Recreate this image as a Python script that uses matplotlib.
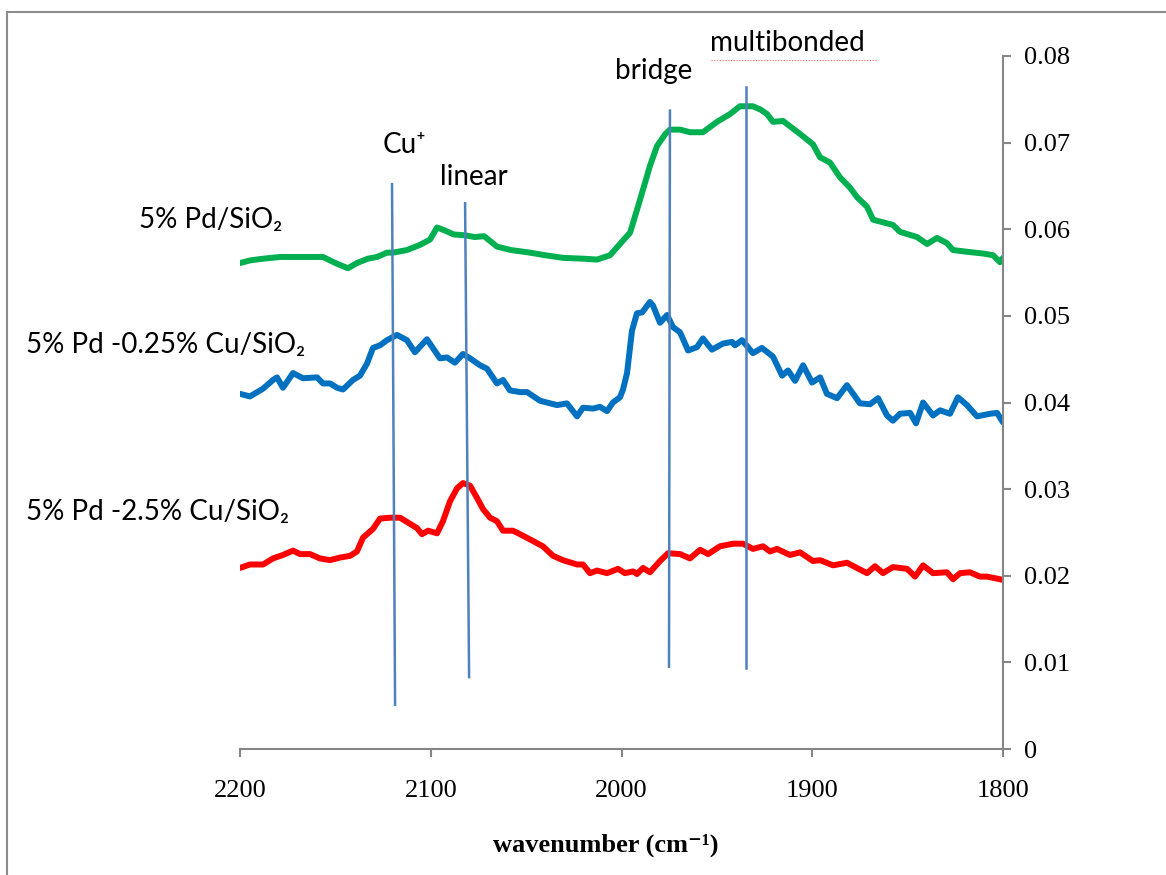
import matplotlib.pyplot as plt
from matplotlib.patches import Rectangle

# IR spectra of adsorbed CO on Pd and Pd-Cu catalysts
wn_pd = [2200, 2194.8, 2187.9, 2179, 2167, 2160, 2156.5, 2152.8, 2149, 2143.4,
         2138.7, 2133, 2128.2, 2122.9, 2119.8, 2112.5, 2105.6, 2100.4, 2096.7, 2093,
         2088, 2082, 2077, 2072, 2065.3, 2058, 2048, 2040, 2030.7, 2020,
         2012.8, 2006, 2002, 1998, 1995.5, 1990.3, 1985.1, 1981.4, 1977, 1974.6,
         1969.3, 1964.1, 1957.3, 1949.9, 1943.1, 1937.9, 1931.1, 1927, 1923.7, 1920.6,
         1915.3, 1906.4, 1899.6, 1895.9, 1890.7, 1885.5, 1880.2, 1876.5, 1871.3, 1868.1,
         1862.9, 1857.7, 1854.0, 1845.1, 1839.8, 1834.6, 1829.4, 1826.2, 1818.9, 1810.5,
         1805.2, 1801.6, 1800]
abs_pd = [0.0561, 0.0564, 0.0566, 0.0568, 0.0568, 0.0568, 0.0568, 0.0564, 0.0560, 0.0555,
          0.0561, 0.0566, 0.0568, 0.0573, 0.0573, 0.0576, 0.0582, 0.0588, 0.0602, 0.0599,
          0.0594, 0.0593, 0.0591, 0.0592, 0.0580, 0.0576, 0.0573, 0.0570, 0.0567, 0.0566,
          0.0565, 0.0570, 0.0580, 0.0590, 0.0596, 0.0634, 0.0673, 0.0696, 0.0710, 0.0715,
          0.0715, 0.0712, 0.0712, 0.0724, 0.0733, 0.0742, 0.0742, 0.0738, 0.0733, 0.0724,
          0.0725, 0.0710, 0.0698, 0.0683, 0.0677, 0.0660, 0.0648, 0.0637, 0.0626, 0.0611,
          0.0608, 0.0605, 0.0597, 0.0591, 0.0583, 0.0590, 0.0584, 0.0576, 0.0574, 0.0572,
          0.0570, 0.0562, 0.0567]

wn_cu025 = [2200, 2194.8, 2187.9, 2182.7, 2180.6, 2177.5, 2172.2, 2167.0, 2159.6, 2156.5,
            2152.8, 2149.1, 2146.0, 2140.8, 2137.1, 2133.4, 2130.3, 2126.6, 2122.9, 2117.7,
            2112.5, 2108.3, 2102.0, 2095.2, 2091.5, 2087.3, 2083.1, 2079.4, 2074.2, 2070.5,
            2065.3, 2062.1, 2058.5, 2053.2, 2049.5, 2042.7, 2033.8, 2028.6, 2023.3, 2020.2,
            2014.9, 2011.3, 2007.6, 2004.5, 2000.8, 1999.2, 1997.1, 1994.5, 1991.9, 1989.2,
            1985.1, 1983.5, 1979.8, 1976.1, 1973.0, 1969.3, 1965.1, 1960.4, 1957.3, 1952.6,
            1946.8, 1942.1, 1940.5, 1936.8, 1931.1, 1926.4, 1920.6, 1915.8, 1912.7, 1909.0,
            1904.8, 1900.1, 1895.9, 1892.3, 1887.0, 1881.8, 1875.0, 1869.7, 1865.5, 1860.8,
            1857.7, 1854.0, 1848.7, 1845.6, 1841.9, 1836.7, 1833.0, 1827.8, 1823.6, 1818.9,
            1813.6, 1806.8, 1803.1, 1800.0]
abs_cu025 = [0.0410, 0.0407, 0.0416, 0.0426, 0.0429, 0.0417, 0.0434, 0.0428, 0.0429, 0.0422,
             0.0422, 0.0417, 0.0415, 0.0426, 0.0431, 0.0445, 0.0463, 0.0466, 0.0472, 0.0478,
             0.0472, 0.0458, 0.0473, 0.0451, 0.0452, 0.0446, 0.0456, 0.0451, 0.0443, 0.0439,
             0.0422, 0.0426, 0.0414, 0.0412, 0.0412, 0.0402, 0.0397, 0.0399, 0.0384, 0.0394,
             0.0393, 0.0395, 0.0390, 0.0400, 0.0406, 0.0415, 0.0434, 0.0483, 0.0503, 0.0504,
             0.0516, 0.0512, 0.0492, 0.0501, 0.0487, 0.0481, 0.0460, 0.0464, 0.0474, 0.0461,
             0.0468, 0.0470, 0.0466, 0.0472, 0.0457, 0.0463, 0.0453, 0.0431, 0.0437, 0.0425,
             0.0443, 0.0423, 0.0429, 0.0410, 0.0405, 0.0420, 0.0399, 0.0398, 0.0405, 0.0385,
             0.0379, 0.0387, 0.0388, 0.0376, 0.0400, 0.0385, 0.0391, 0.0387, 0.0406, 0.0397,
             0.0384, 0.0387, 0.0388, 0.0377]

wn_cu25 = [2200, 2194.8, 2187.9, 2182.7, 2177.5, 2172.2, 2168.5, 2163.3, 2158.1, 2152.8,
           2147.6, 2142.3, 2138.7, 2135.5, 2130.3, 2126.6, 2121.4, 2116.1, 2110.9, 2107.2,
           2104.6, 2101.4, 2096.7, 2093.6, 2089.9, 2086.2, 2083.1, 2079.4, 2075.8, 2072.6,
           2068.9, 2065.3, 2062.1, 2056.9, 2053.2, 2048.0, 2041.2, 2035.9, 2030.7, 2023.3,
           2020.2, 2016.5, 2012.8, 2007.6, 2001.8, 1998.2, 1993.9, 1991.9, 1988.7, 1985.1,
           1979.8, 1975.6, 1969.3, 1964.1, 1958.8, 1954.6, 1948.4, 1941.5, 1936.3, 1931.1,
           1925.8, 1922.1, 1918.5, 1911.7, 1906.4, 1899.6, 1895.9, 1889.1, 1881.8, 1871.3,
           1867.1, 1862.9, 1857.7, 1850.3, 1846.1, 1841.9, 1836.7, 1829.4, 1826.2, 1822.5,
           1817.3, 1812.1, 1808.4, 1801.6, 1800.0]
abs_cu25 = [0.0209, 0.0213, 0.0213, 0.0220, 0.0224, 0.0229, 0.0225, 0.0225, 0.0220, 0.0218,
            0.0221, 0.0223, 0.0228, 0.0244, 0.0254, 0.0266, 0.0267, 0.0267, 0.0260, 0.0255,
            0.0248, 0.0252, 0.0249, 0.0263, 0.0286, 0.0301, 0.0307, 0.0304, 0.0290, 0.0277,
            0.0267, 0.0263, 0.0252, 0.0252, 0.0248, 0.0242, 0.0234, 0.0223, 0.0218, 0.0213,
            0.0213, 0.0203, 0.0206, 0.0203, 0.0208, 0.0203, 0.0205, 0.0202, 0.0209, 0.0204,
            0.0217, 0.0226, 0.0225, 0.0220, 0.0230, 0.0225, 0.0234, 0.0237, 0.0237, 0.0231,
            0.0234, 0.0228, 0.0231, 0.0224, 0.0227, 0.0217, 0.0218, 0.0212, 0.0215, 0.0203,
            0.0211, 0.0203, 0.0210, 0.0208, 0.0199, 0.0212, 0.0203, 0.0204, 0.0196, 0.0203,
            0.0204, 0.0199, 0.0199, 0.0196, 0.0195]

# band assignment markers: (label, top wn, top y, bottom wn, bottom y)
band_names = ["Cu\u207a", "linear", "bridge", "multibonded"]
band_top_wn = [2120.3, 2082.0, 1974.6, 1934.7]
band_top_y = [0.0652, 0.0630, 0.0737, 0.0764]
band_bot_wn = [2118.7, 2079.9, 1975.1, 1934.7]
band_bot_y = [0.0051, 0.0083, 0.0095, 0.0093]
band_label_wn = [2125, 2095.2, 2003.4, 1953.6]
band_label_y = [0.0688, 0.0651, 0.0773, 0.0806]

sample_names = ["5% Pd/SiO\u2082", "5% Pd -0.25% Cu/SiO\u2082", "5% Pd -2.5% Cu/SiO\u2082"]
sample_label_wn = [2253, 2312, 2312]
sample_label_y = [0.0602, 0.0457, 0.0264]

sans = ["Lato", "DejaVu Sans"]
serif = ["Liberation Serif", "DejaVu Serif"]
grey = "#868686"

fig = plt.figure(figsize=(11.66, 8.75), dpi=100)
ax = fig.add_axes([240 / 1166, 1 - 749 / 875, 763 / 1166, 693 / 875])

line_kw = dict(lw=4.3, solid_capstyle="round", solid_joinstyle="round")
ax.plot(wn_pd, abs_pd, color="#00b050", **line_kw)
ax.plot(wn_cu025, abs_cu025, color="#0070c0", **line_kw)
ax.plot(wn_cu25, abs_cu25, color="#ff0000", **line_kw)

for i in range(len(band_names)):
    ax.plot([band_top_wn[i], band_bot_wn[i]], [band_top_y[i], band_bot_y[i]],
            color="#4f81bd", lw=1.8)
    ax.text(band_label_wn[i], band_label_y[i], band_names[i], family=sans,
            fontsize=20, va="baseline", ha="left", clip_on=False)

for name, x, y in zip(sample_names, sample_label_wn, sample_label_y):
    ax.text(x, y, name, family=sans, fontsize=20, va="baseline", ha="left",
            clip_on=False)

ax.set_xlim(2200, 1800)
ax.set_ylim(0, 0.08)
ax.set_xticks([2200, 2100, 2000, 1900, 1800])
ax.set_yticks([0, 0.01, 0.02, 0.03, 0.04, 0.05, 0.06, 0.07, 0.08])
ax.set_yticklabels(["0", "0.01", "0.02", "0.03", "0.04", "0.05", "0.06", "0.07", "0.08"])

ax.spines["top"].set_visible(False)
ax.spines["left"].set_visible(False)
for side in ["right", "bottom"]:
    ax.spines[side].set_color(grey)
    ax.spines[side].set_linewidth(1.5)
ax.yaxis.tick_right()
ax.tick_params(axis="both", direction="out", length=6, width=1.5, color=grey,
               labelsize=19)
ax.tick_params(axis="x", pad=16)
ax.tick_params(axis="y", pad=9)
for lab in ax.get_xticklabels() + ax.get_yticklabels():
    lab.set_family(serif)

fig.text(606 / 1166, 1 - 852 / 875, "wavenumber (cm\u207b\u00b9)", family=serif,
         fontweight="bold", fontsize=19, ha="center", va="baseline")

# red dotted underline beneath "multibonded"
fig.add_artist(plt.Line2D([711 / 1166, 876 / 1166], [1 - 60 / 875, 1 - 60 / 875],
                          color="#ff6060", lw=0.8, ls=(0, (1, 1.5))))

# outer frame
fig.add_artist(Rectangle((7 / 1166, -0.1), 1.2, 1.1 - 12 / 875, fill=False,
                         ec="#8c8c8c", lw=1.5, transform=fig.transFigure))

fig.savefig("out.png", dpi=100)
